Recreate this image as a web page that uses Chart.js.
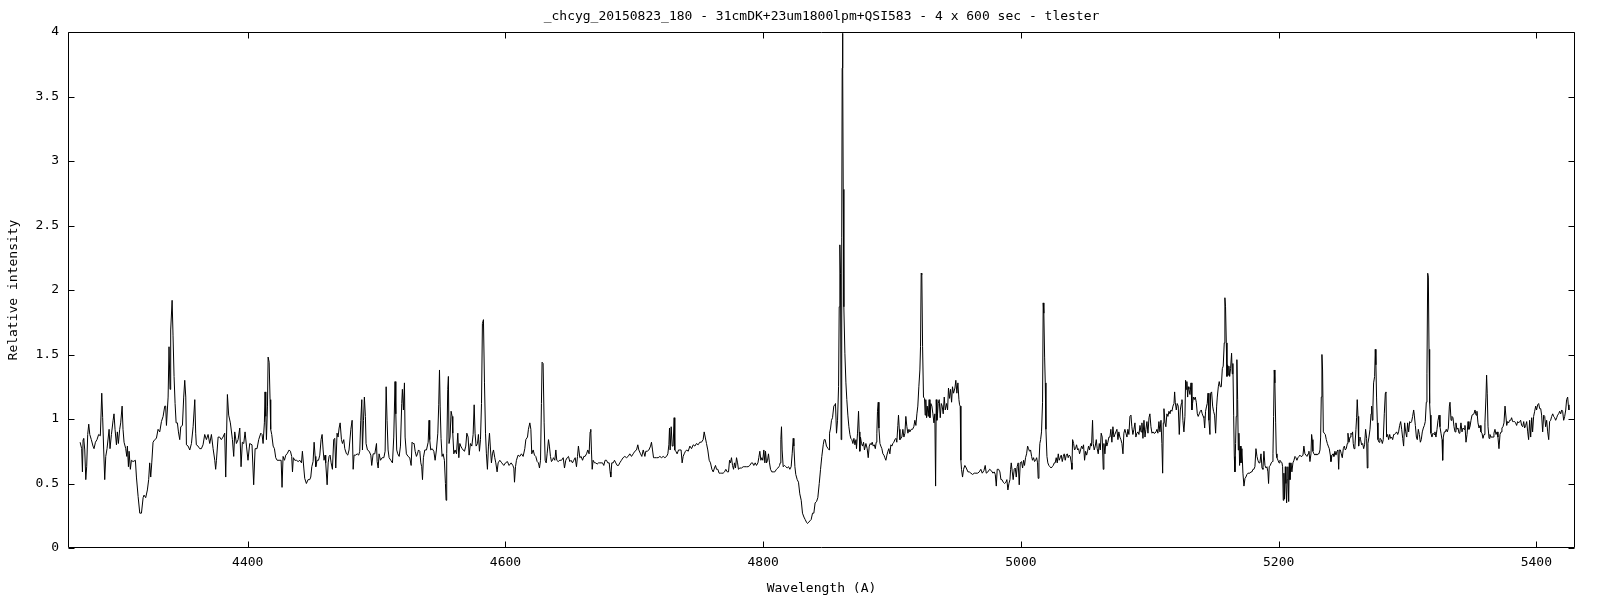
<!DOCTYPE html>
<html lang="en">
<head>
  <meta charset="UTF-8">
  <title>chcyg spectrum</title>
  <script src="https://cdn.jsdelivr.net/npm/chart.js"></script>
  <style>
    html, body { margin: 0; padding: 0; background: #fff; }
    canvas { display: block; }
  </style>
</head>
<body>
  <canvas id="spectrum" width="1600" height="600"></canvas>

  <script>
    // [wavelength (A), relative intensity], region by region
    const segHgamma = [[4269.9,0.82],[4271.1,0.77],[4271.7,0.59],[4272.2,0.84],[4272.7,0.85],[4273.5,0.76],[4274.3,0.53],[4275.0,0.63],[4275.8,0.88],[4276.6,0.96],[4277.4,0.88],[4278.6,0.84],[4279.9,0.79],[4280.7,0.77],[4281.8,0.82],[4283.0,0.84],[4284.3,0.88],[4285.6,0.87],[4286.7,1.20],[4287.4,1.01],[4288.2,0.76],[4289.0,0.53],[4289.8,0.71],[4290.8,0.77],[4292.4,0.92],[4293.1,0.77],[4294.2,0.88],[4295.5,0.99],[4296.2,1.04],[4297.0,0.92],[4298.1,0.80],[4298.8,0.90],[4299.6,0.81],[4300.6,0.92],[4301.4,0.97],[4302.5,1.10],[4303.2,0.92],[4304.0,0.82],[4305.3,0.77],[4306.1,0.71],[4306.6,0.79],[4307.4,0.63],[4307.9,0.75],[4308.9,0.61],[4309.7,0.68],[4311.0,0.67],[4312.8,0.68],[4313.6,0.55],[4314.9,0.40],[4316.2,0.27],[4317.5,0.27],[4318.8,0.39],[4319.5,0.41],[4320.8,0.39],[4322.1,0.45],[4323.1,0.53],[4323.9,0.66],[4324.7,0.55],[4325.5,0.66],[4326.5,0.82],[4327.8,0.84],[4329.1,0.85],[4330.4,0.92],[4331.7,0.90],[4333.0,0.98],[4334.3,1.02],[4335.6,1.10],[4336.3,1.10],[4336.9,0.95],[4338.2,1.17],[4338.9,1.56],[4339.7,1.23],[4340.2,1.69],[4341.3,1.92],[4342.0,1.65],[4342.8,1.33],[4343.6,1.12],[4344.4,0.97],[4345.4,0.97],[4346.2,0.90],[4347.2,0.84],[4348.0,0.94],[4349.3,0.95],[4350.3,1.17],[4351.1,1.30],[4351.9,1.17],[4352.4,0.80],[4353.7,0.79],[4355.0,0.76],[4356.3,0.81],[4357.6,0.94],[4358.9,1.15],[4359.6,0.89],[4360.1,0.80],[4361.4,0.79],[4362.7,0.77],[4364.0,0.77],[4365.3,0.80],[4366.6,0.88],[4367.9,0.84],[4369.2,0.88],[4370.5,0.81],[4371.8,0.88],[4373.1,0.77],[4374.4,0.68],[4375.1,0.61],[4375.7,0.68],[4377.0,0.86],[4378.2,0.86],[4379.5,0.84],[4380.8,0.86],[4382.1,0.89],[4382.9,0.55],[4384.2,1.19],[4385.2,1.03],[4386.5,0.97],[4388.1,0.84],[4389.1,0.71],[4389.9,0.90],[4391.2,0.81],[4392.5,0.84],[4393.8,0.93],[4394.8,0.63],[4395.8,0.82],[4396.9,0.81],[4397.9,0.90],[4399.0,0.79],[4400.2,0.68],[4401.5,0.81],[4403.3,0.80],[4404.6,0.49],[4405.7,0.77],[4407.2,0.77],[4408.5,0.84]];

    const seg4410 = [[4410.1,0.89],[4411.1,0.88],[4411.9,0.81],[4412.9,0.97],[4413.4,1.21],[4414.0,1.02],[4414.5,0.84],[4415.3,1.10],[4415.8,1.48],[4416.6,1.44],[4417.3,1.15],[4417.8,0.92],[4418.6,0.88],[4419.7,0.79],[4420.7,0.77],[4421.7,0.70],[4422.8,0.68],[4424.3,0.68],[4425.9,0.68],[4426.6,0.47],[4427.4,0.71],[4428.5,0.68],[4429.5,0.72],[4430.5,0.73],[4432.1,0.76],[4433.1,0.75],[4434.1,0.71],[4434.7,0.59],[4435.4,0.70],[4436.5,0.68],[4437.8,0.68],[4439.1,0.67],[4440.4,0.68],[4441.7,0.66],[4442.4,0.75],[4443.5,0.62],[4444.2,0.54],[4445.5,0.50],[4446.8,0.53],[4448.1,0.53],[4448.9,0.55],[4449.7,0.63],[4450.7,0.67],[4451.5,0.82],[4452.3,0.71],[4452.8,0.63],[4453.8,0.68],[4454.9,0.68],[4455.9,0.72],[4456.9,0.84],[4457.7,0.88],[4458.5,0.76],[4459.2,0.68],[4460.0,0.72],[4460.5,0.66],[4461.6,0.49],[4462.4,0.66],[4463.1,0.71],[4463.9,0.72],[4464.7,0.66],[4465.7,0.61],[4466.7,0.84],[4467.5,0.85],[4468.3,0.62],[4469.3,0.89],[4470.1,0.86],[4470.9,0.93],[4471.7,0.97],[4472.7,0.84],[4473.5,0.81],[4474.5,0.84],[4475.3,0.77],[4476.6,0.73],[4477.6,0.72],[4478.6,0.76],[4480.0,0.92],[4481.0,0.99],[4481.8,0.61],[4482.5,0.72],[4483.8,0.72],[4484.9,0.73],[4486.1,0.72],[4486.9,0.75],[4487.7,0.99],[4488.5,1.15],[4489.0,0.76],[4489.8,0.99],[4490.5,1.17],[4491.3,1.02],[4491.8,0.81],[4492.9,0.76],[4494.2,0.75],[4495.5,0.72],[4496.2,0.64],[4497.3,0.73],[4498.6,0.73],[4499.9,0.81],[4500.4,0.67],[4501.2,0.62],[4501.9,0.73],[4503.0,0.68],[4504.3,0.70],[4505.6,0.70],[4506.6,0.75],[4507.4,1.25],[4508.1,0.99],[4508.9,0.76],[4509.7,0.70],[4511.0,0.68],[4512.3,0.66],[4513.3,0.86],[4514.3,1.29],[4514.9,1.04],[4515.6,0.76],[4516.4,0.73],[4517.5,0.71],[4518.5,0.79],[4519.5,1.12],[4520.0,1.23],[4520.8,1.07],[4521.6,1.28],[4522.1,0.86],[4523.1,0.73],[4524.4,0.71],[4525.7,0.70],[4526.8,0.64],[4527.5,0.82],[4528.3,0.81],[4529.1,0.81],[4529.9,0.75],[4530.9,0.71],[4531.7,0.73],[4532.5,0.76],[4533.5,0.75],[4534.3,0.66],[4535.0,0.63],[4535.6,0.53],[4536.3,0.70],[4537.4,0.76],[4538.7,0.76],[4540.0,0.82],[4540.7,0.99],[4541.2,0.84],[4542.0,0.76],[4543.1,0.77],[4544.4,0.75],[4545.4,0.68],[4546.4,0.76],[4547.5,0.89],[4548.2,1.11],[4548.8,1.38],[4549.3,1.10],[4550.0,0.85],[4550.8,0.71],[4551.6,0.73],[4552.6,0.68],[4553.4,0.50],[4553.9,0.37],[4554.4,0.73],[4555.2,1.23],[4555.7,1.33],[4556.2,0.81]];

    const seg4556 = [[4556.5,0.81],[4557.0,0.86],[4557.8,1.06],[4558.6,1.02],[4559.1,0.89],[4559.9,0.73],[4560.9,0.76],[4562.0,0.73],[4563.0,0.89],[4563.8,0.70],[4564.6,0.81],[4565.3,0.79],[4566.4,0.77],[4567.1,0.76],[4568.2,0.75],[4569.2,0.79],[4570.0,0.89],[4571.0,0.86],[4571.8,0.72],[4572.8,0.81],[4573.9,0.79],[4574.9,0.88],[4575.7,1.11],[4576.4,0.89],[4577.2,0.79],[4578.3,0.81],[4579.0,0.88],[4579.8,0.75],[4580.6,0.84],[4581.4,1.12],[4582.1,1.74],[4582.9,1.77],[4583.7,1.28],[4584.5,0.89],[4585.2,0.73],[4586.0,0.61],[4586.8,0.79],[4587.6,0.89],[4588.4,0.76],[4589.1,0.66],[4589.9,0.73],[4590.7,0.76],[4591.7,0.70],[4592.5,0.66],[4593.5,0.59],[4594.3,0.66],[4595.6,0.68],[4597.1,0.66],[4598.7,0.64],[4600.0,0.66],[4601.5,0.67],[4602.8,0.64],[4604.4,0.66],[4605.7,0.64],[4606.5,0.62],[4607.0,0.51],[4607.8,0.63],[4608.5,0.68],[4609.8,0.72],[4611.1,0.71],[4612.4,0.73],[4613.7,0.71],[4615.0,0.77],[4615.8,0.84],[4617.1,0.86],[4617.8,0.92],[4618.9,0.97],[4619.7,0.92],[4620.4,0.73],[4621.5,0.76],[4622.5,0.72],[4623.5,0.71],[4624.6,0.67],[4625.6,0.66],[4626.4,0.62],[4627.2,0.68],[4627.9,1.12],[4628.4,1.44],[4629.2,1.43],[4630.0,0.97],[4630.8,0.68],[4631.6,0.66],[4632.3,0.73],[4633.4,0.84],[4634.1,0.79],[4634.9,0.71],[4635.7,0.67],[4636.5,0.68],[4637.2,0.70],[4638.3,0.68],[4639.1,0.76],[4639.8,0.68],[4640.9,0.67],[4642.2,0.68],[4643.5,0.68],[4644.8,0.70],[4645.8,0.62],[4646.8,0.68],[4647.9,0.70],[4648.9,0.71],[4649.9,0.67],[4650.9,0.68],[4652.0,0.66],[4653.0,0.68],[4654.1,0.70],[4655.1,0.63],[4655.9,0.71],[4656.6,0.79],[4657.7,0.70],[4658.7,0.71],[4659.8,0.68],[4660.8,0.71],[4661.8,0.71],[4662.9,0.73],[4663.9,0.76],[4664.9,0.73],[4665.7,0.90],[4666.2,0.92],[4666.7,0.76],[4667.3,0.61],[4668.0,0.68],[4669.1,0.66],[4670.1,0.66],[4671.1,0.65],[4672.2,0.66],[4673.2,0.66],[4674.2,0.66],[4675.3,0.66],[4676.3,0.64],[4677.3,0.68],[4678.4,0.68],[4679.4,0.66],[4680.5,0.66],[4681.2,0.59],[4681.7,0.55],[4682.5,0.66],[4683.6,0.66],[4684.6,0.68],[4685.6,0.66],[4686.7,0.64],[4687.7,0.64],[4688.7,0.66],[4690.0,0.68],[4691.3,0.70],[4692.6,0.71],[4693.9,0.70],[4695.2,0.71],[4696.5,0.73],[4697.8,0.71],[4699.1,0.73],[4700.4,0.75],[4701.7,0.76],[4702.7,0.80],[4703.5,0.76]];

    const seg4705 = [[4704.8,0.73],[4705.8,0.71],[4706.9,0.76],[4708.2,0.71],[4708.9,0.75],[4710.0,0.75],[4711.3,0.76],[4712.6,0.79],[4713.3,0.82],[4714.1,0.76],[4714.9,0.70],[4715.9,0.70],[4717.2,0.70],[4718.5,0.70],[4719.8,0.71],[4721.1,0.70],[4722.4,0.71],[4723.7,0.70],[4725.0,0.71],[4726.0,0.73],[4726.8,0.80],[4727.3,0.93],[4727.8,0.76],[4728.6,0.94],[4729.4,0.79],[4730.1,0.79],[4730.9,1.01],[4731.4,0.76],[4732.2,0.75],[4733.2,0.73],[4734.3,0.76],[4735.3,0.76],[4736.3,0.76],[4737.1,0.66],[4737.9,0.71],[4738.7,0.73],[4739.7,0.75],[4740.7,0.76],[4741.8,0.75],[4743.1,0.79],[4744.4,0.77],[4745.7,0.80],[4747.0,0.79],[4748.2,0.81],[4749.5,0.80],[4750.8,0.82],[4752.1,0.82],[4753.4,0.84],[4754.2,0.90],[4755.0,0.86],[4756.0,0.81],[4757.0,0.76],[4758.1,0.68],[4759.1,0.66],[4760.2,0.61],[4761.2,0.59],[4762.2,0.62],[4763.0,0.64],[4763.8,0.61],[4764.8,0.61],[4765.8,0.58],[4766.9,0.58],[4767.9,0.58],[4768.9,0.58],[4770.0,0.59],[4771.0,0.61],[4772.1,0.59],[4773.1,0.59],[4773.9,0.68],[4774.6,0.66],[4775.4,0.70],[4776.2,0.64],[4777.0,0.61],[4777.7,0.66],[4778.5,0.62],[4779.3,0.70],[4780.1,0.66],[4780.8,0.61],[4781.9,0.62],[4783.2,0.62],[4784.5,0.63],[4785.8,0.63],[4787.1,0.63],[4788.3,0.63],[4789.6,0.64],[4790.9,0.66],[4791.7,0.66],[4792.7,0.64],[4793.8,0.66],[4794.8,0.64],[4795.9,0.66],[4796.6,0.70],[4797.4,0.75],[4798.2,0.68],[4799.0,0.70],[4799.7,0.68],[4800.5,0.76],[4801.3,0.66],[4801.8,0.75],[4802.6,0.66],[4803.4,0.68],[4804.1,0.73],[4804.9,0.66],[4805.7,0.61],[4806.7,0.59],[4807.8,0.59],[4809.0,0.59],[4810.3,0.61],[4811.4,0.62],[4812.2,0.63],[4812.7,0.64],[4813.2,0.66],[4813.7,0.84],[4814.2,0.94],[4814.7,0.76],[4815.5,0.63],[4816.6,0.64],[4817.6,0.63],[4818.6,0.62],[4819.7,0.63],[4820.7,0.61],[4821.7,0.63],[4822.5,0.73],[4823.3,0.85],[4823.8,0.79],[4824.6,0.63],[4825.3,0.57],[4826.4,0.53],[4827.4,0.51],[4828.4,0.42],[4829.5,0.37],[4830.5,0.27],[4831.6,0.24],[4832.6,0.22],[4833.6,0.20],[4834.4,0.19],[4835.4,0.20],[4836.2,0.21],[4837.2,0.22],[4838.3,0.27],[4839.3,0.27],[4840.3,0.35],[4841.4,0.36],[4842.4,0.39],[4843.5,0.50],[4844.5,0.61],[4845.5,0.71],[4846.6,0.80],[4847.3,0.84],[4848.1,0.84],[4849.1,0.79],[4850.4,0.77],[4851.2,0.76]];

    const segHbeta = [[4851.5,0.89],[4852.3,0.93],[4853.0,0.99],[4853.8,1.01],[4854.8,1.10],[4855.6,1.11],[4856.1,1.12],[4856.9,0.89],[4857.7,0.99],[4858.5,1.25],[4859.0,1.87],[4859.5,2.35],[4860.0,2.13],[4860.5,0.84],[4860.8,1.79],[4861.1,2.41],[4861.3,3.72],[4861.6,3.99],[4861.8,3.72],[4862.1,2.78],[4862.6,1.87],[4863.4,1.51],[4864.2,1.28],[4864.9,1.15],[4865.7,1.03],[4866.5,0.94],[4867.3,0.88],[4868.0,0.85],[4868.8,0.84],[4869.6,0.81],[4870.4,0.85],[4871.2,0.80],[4872.0,0.84],[4872.4,0.77],[4873.2,0.89],[4874.0,1.06],[4874.5,0.90],[4875.0,0.75],[4875.5,0.86],[4876.3,0.81],[4877.1,0.79],[4877.9,0.82],[4878.6,0.76],[4879.7,0.81],[4880.7,0.77],[4881.5,0.70],[4882.3,0.79],[4883.1,0.81],[4883.8,0.80],[4884.6,0.82],[4885.4,0.79],[4886.2,0.80],[4887.0,0.77],[4887.7,0.82],[4888.2,0.89],[4888.7,1.06],[4889.3,1.13],[4889.8,0.93],[4890.6,0.81],[4891.3,0.79],[4892.1,0.77],[4892.9,0.73],[4893.7,0.72],[4894.4,0.70],[4895.2,0.68],[4896.0,0.72],[4896.8,0.75],[4897.5,0.77],[4898.3,0.73],[4899.1,0.80],[4899.9,0.79],[4900.6,0.81],[4901.4,0.82],[4902.2,0.84],[4903.0,0.85],[4903.7,0.82],[4904.5,0.95],[4905.0,1.03],[4905.6,0.92],[4906.1,0.84],[4906.9,0.85],[4907.6,0.86],[4908.4,0.92],[4909.2,0.86],[4910.0,0.89],[4910.7,1.02],[4911.5,0.94],[4912.3,0.89],[4913.1,0.92],[4913.8,0.90],[4914.9,0.92],[4915.9,0.92],[4916.9,0.94],[4917.7,0.99],[4918.5,0.95],[4919.3,1.04],[4920.0,1.10],[4920.8,1.25],[4921.6,1.38],[4922.1,1.56],[4922.6,2.13],[4923.1,2.12],[4923.7,1.56],[4924.4,1.17],[4925.2,1.16],[4925.7,1.03],[4926.2,1.15],[4926.8,1.01],[4927.3,1.10],[4928.1,1.02],[4928.8,1.15],[4929.4,1.01],[4930.1,1.12],[4930.9,1.10],[4931.7,1.04],[4932.5,0.97],[4933.2,1.04],[4933.8,0.48],[4934.3,1.15],[4934.8,0.99],[4935.3,1.04],[4935.8,1.12],[4936.6,1.15],[4937.4,1.01],[4938.2,1.12],[4938.9,1.10],[4939.7,1.04],[4940.5,1.17],[4941.3,1.07],[4942.3,1.12],[4943.1,1.07],[4943.8,1.24],[4944.6,1.16],[4945.4,1.23],[4946.2,1.13],[4946.9,1.25],[4947.7,1.20],[4948.8,1.24],[4949.5,1.30],[4950.3,1.20],[4951.1,1.28],[4951.9,1.15]];

    const seg4952 = [[4952.4,1.11],[4952.9,1.10],[4953.4,0.68],[4953.9,0.61],[4954.7,0.55],[4955.5,0.61],[4956.5,0.64],[4957.6,0.62],[4958.9,0.59],[4959.9,0.59],[4961.2,0.58],[4962.5,0.57],[4963.8,0.58],[4965.1,0.58],[4966.4,0.58],[4967.7,0.59],[4968.9,0.61],[4970.0,0.58],[4971.3,0.60],[4972.3,0.64],[4973.1,0.58],[4974.4,0.59],[4975.7,0.61],[4977.0,0.60],[4978.3,0.58],[4979.3,0.59],[4980.1,0.57],[4980.9,0.48],[4981.6,0.61],[4982.7,0.61],[4983.7,0.59],[4984.5,0.53],[4985.3,0.53],[4986.3,0.51],[4987.3,0.50],[4988.4,0.51],[4989.1,0.53],[4989.9,0.45],[4990.7,0.50],[4991.5,0.53],[4992.0,0.61],[4992.5,0.66],[4993.3,0.59],[4994.0,0.53],[4994.8,0.61],[4995.6,0.62],[4996.4,0.55],[4997.1,0.63],[4997.9,0.66],[4998.7,0.49],[4999.5,0.66],[5000.5,0.67],[5001.3,0.62],[5002.1,0.68],[5002.8,0.64],[5003.6,0.70],[5004.4,0.73],[5005.2,0.79],[5005.9,0.77],[5006.7,0.75],[5007.5,0.76],[5008.3,0.71],[5009.0,0.68],[5009.8,0.70],[5010.6,0.67],[5011.4,0.68],[5012.2,0.70],[5012.9,0.66],[5013.4,0.54],[5014.0,0.66],[5014.7,0.81],[5015.3,0.84],[5016.0,0.90],[5016.8,1.13],[5017.3,1.90],[5017.8,1.82],[5018.4,1.48],[5018.9,1.28],[5019.4,0.92],[5020.2,0.71],[5020.9,0.66],[5021.7,0.64],[5022.5,0.63],[5023.5,0.62],[5024.3,0.63],[5025.1,0.64],[5025.9,0.66],[5026.6,0.66],[5027.4,0.70],[5028.2,0.66],[5029.0,0.73],[5029.7,0.68],[5030.5,0.70],[5031.3,0.72],[5032.1,0.67],[5032.9,0.71],[5033.6,0.73],[5034.4,0.68],[5035.2,0.72],[5036.0,0.73],[5036.7,0.70],[5037.5,0.72],[5038.3,0.71],[5039.1,0.66],[5039.6,0.61],[5040.1,0.84],[5040.9,0.81],[5041.6,0.76],[5042.4,0.77],[5043.2,0.80],[5044.0,0.76],[5044.8,0.77],[5045.5,0.73],[5046.3,0.76],[5047.1,0.79],[5047.9,0.77],[5048.6,0.80],[5049.4,0.68],[5050.2,0.75],[5051.0,0.72],[5051.7,0.75],[5052.5,0.79],[5053.3,0.76],[5054.1,0.81],[5054.8,0.79],[5055.6,0.99],[5056.1,0.81],[5056.9,0.76],[5057.7,0.79],[5058.5,0.84],[5059.2,0.77],[5060.0,0.73],[5060.8,0.81],[5061.6,0.76],[5062.3,0.89],[5063.1,0.86],[5063.9,0.61],[5064.4,0.81],[5065.2,0.73],[5066.0,0.84],[5066.7,0.79],[5067.5,0.82],[5068.3,0.86],[5069.1,0.86],[5069.8,0.92],[5070.6,0.82],[5071.4,0.94],[5072.2,0.86],[5072.9,0.88],[5073.7,0.90],[5074.5,0.92],[5075.3,0.84],[5076.0,0.90],[5076.8,0.86],[5077.6,0.84],[5078.4,0.81],[5079.2,0.73],[5079.9,0.89],[5080.7,0.92],[5081.5,0.89],[5082.3,0.86],[5083.0,0.92],[5083.8,0.88],[5084.6,1.02],[5085.4,1.03],[5086.1,0.94],[5086.9,0.88],[5087.7,0.92],[5088.5,0.97],[5089.2,0.86],[5090.0,0.89],[5090.8,0.90],[5091.6,0.88]];

    const seg5092 = [[5092.4,0.95],[5093.2,0.90],[5093.9,0.97],[5094.7,0.85],[5095.5,0.99],[5096.3,0.86],[5097.0,0.92],[5097.8,0.98],[5098.6,0.89],[5099.4,1.01],[5100.1,1.04],[5100.9,0.94],[5101.7,0.89],[5102.5,0.90],[5103.2,0.89],[5104.0,0.89],[5104.8,0.90],[5105.6,0.92],[5106.3,0.89],[5107.1,0.98],[5107.9,0.90],[5108.7,0.99],[5109.4,0.81],[5110.0,0.58],[5110.5,0.97],[5111.0,1.08],[5111.8,0.97],[5112.5,0.94],[5113.3,1.04],[5114.1,1.02],[5114.9,1.06],[5115.7,1.04],[5116.4,1.07],[5117.2,1.06],[5118.0,1.10],[5118.8,1.12],[5119.3,1.21],[5119.8,1.13],[5120.6,1.07],[5121.3,1.12],[5122.1,1.10],[5122.9,0.88],[5123.7,1.07],[5124.5,1.12],[5125.0,1.15],[5125.7,0.99],[5126.5,0.90],[5127.3,1.02],[5127.8,1.30],[5128.3,1.23],[5128.8,1.29],[5129.4,1.17],[5129.9,1.25],[5130.4,1.23],[5131.2,1.19],[5132.0,1.28],[5132.7,1.07],[5133.2,1.12],[5133.8,1.17],[5134.5,1.15],[5135.3,1.17],[5136.1,1.13],[5136.9,1.04],[5137.6,1.02],[5138.4,1.04],[5139.2,1.06],[5140.0,1.07],[5140.7,1.04],[5141.5,1.02],[5142.0,1.01],[5142.6,0.93],[5143.3,1.06],[5144.1,1.10],[5144.6,1.12],[5145.2,1.20],[5145.9,0.99],[5146.7,0.88],[5147.2,1.20],[5148.0,1.21],[5148.8,1.10],[5149.5,1.06],[5150.3,1.03],[5151.1,0.89],[5151.9,1.10],[5152.4,1.17],[5153.2,1.25],[5153.9,1.29],[5154.7,1.25],[5155.5,1.25],[5156.3,1.39],[5157.0,1.41],[5157.8,1.59],[5158.3,1.94],[5158.8,1.87],[5159.4,1.59],[5159.9,1.33],[5160.4,1.42],[5160.9,1.34],[5161.4,1.41],[5162.0,1.33],[5162.7,1.39],[5163.5,1.51],[5164.0,1.35],[5164.5,1.43],[5165.1,1.03],[5165.6,0.71],[5166.1,0.59],[5166.6,0.81],[5167.1,1.02],[5167.6,1.46],[5168.2,1.15],[5168.7,0.76],[5169.2,0.89],[5169.7,0.64],[5170.2,0.79],[5170.8,0.66],[5171.5,0.77],[5172.3,0.58],[5173.1,0.48],[5173.9,0.54],[5174.6,0.55],[5175.4,0.57],[5176.2,0.58],[5177.0,0.58],[5177.7,0.58],[5178.5,0.59],[5179.3,0.59],[5180.1,0.61],[5180.8,0.61],[5181.6,0.63],[5182.4,0.77],[5183.2,0.71],[5183.9,0.68],[5184.7,0.66],[5185.5,0.66],[5186.3,0.73],[5187.1,0.62],[5187.8,0.61],[5188.6,0.75],[5189.4,0.64],[5190.2,0.62],[5190.9,0.63],[5191.7,0.59],[5192.2,0.50],[5192.7,0.63],[5193.5,0.64],[5194.3,0.66],[5195.1,0.67],[5195.6,0.73],[5196.1,1.02],[5196.6,1.38],[5197.1,1.28],[5197.7,0.97],[5198.2,0.73],[5198.7,0.70],[5199.5,0.68],[5200.3,0.66],[5201.0,0.68],[5201.8,0.67],[5202.6,0.66],[5203.1,0.63],[5203.6,0.37],[5204.1,0.58],[5204.6,0.38],[5205.2,0.63],[5205.7,0.50],[5206.2,0.35],[5206.7,0.53],[5207.2,0.63],[5207.8,0.36],[5208.3,0.66],[5208.8,0.53],[5209.6,0.66],[5210.3,0.59],[5211.1,0.66],[5211.9,0.68],[5212.7,0.71],[5213.4,0.70],[5214.2,0.68],[5215.0,0.70],[5215.8,0.71],[5216.5,0.72],[5217.3,0.71],[5218.1,0.71],[5218.9,0.72],[5219.6,0.79],[5220.4,0.73],[5221.2,0.72],[5222.0,0.71],[5222.8,0.73],[5223.5,0.75],[5224.3,0.67],[5225.1,0.73],[5225.6,0.88],[5226.1,0.84],[5226.6,0.75],[5227.4,0.73],[5228.2,0.72],[5229.0,0.73],[5229.7,0.72],[5230.5,0.73],[5231.3,0.73],[5232.1,0.76],[5232.6,0.86],[5233.1,1.17],[5233.6,1.50],[5234.1,1.38],[5234.7,0.90],[5235.4,0.89],[5236.2,0.88],[5237.0,0.84],[5237.8,0.81],[5238.5,0.79],[5239.3,0.77],[5240.1,0.72],[5240.6,0.67],[5241.4,0.72],[5242.2,0.73],[5242.9,0.71],[5243.7,0.75],[5244.5,0.72],[5245.3,0.75],[5246.0,0.76],[5246.6,0.61],[5247.1,0.76],[5247.9,0.76],[5248.6,0.73],[5249.4,0.70],[5250.2,0.77],[5251.0,0.79],[5251.7,0.76],[5252.5,0.77],[5253.3,0.81],[5253.8,0.89],[5254.6,0.82],[5255.4,0.86],[5256.1,0.89],[5256.9,0.88],[5257.4,0.90],[5257.9,0.81],[5258.5,0.77],[5259.2,0.79],[5260.0,0.92],[5260.5,1.01],[5261.0,1.15],[5261.6,1.02],[5262.1,0.79],[5262.6,0.84],[5263.1,0.86],[5263.6,0.84],[5264.4,0.80],[5265.2,0.81],[5266.0,0.77],[5266.7,0.80],[5267.5,0.92],[5268.3,0.85],[5268.8,0.62],[5269.3,0.81],[5270.1,0.86],[5270.9,0.92],[5271.7,1.04],[5272.2,1.10],[5272.7,0.99],[5273.2,1.10],[5273.7,1.28],[5274.5,1.33],[5275.0,1.54],[5275.5,1.42],[5276.0,1.17],[5276.6,0.97],[5277.1,0.84],[5277.9,0.82],[5278.6,0.85]];

    const seg5280 = [[5279.7,0.84],[5280.5,0.81],[5281.2,0.84],[5282.0,1.04],[5282.8,1.20],[5283.3,1.21],[5283.8,0.86],[5284.6,0.88],[5285.4,0.84],[5286.2,0.88],[5286.9,0.85],[5287.7,0.86],[5288.5,0.84],[5289.3,0.88],[5290.0,0.88],[5290.8,0.89],[5291.6,0.90],[5292.4,0.88],[5293.1,0.90],[5293.9,0.95],[5294.7,0.98],[5295.5,0.92],[5296.3,0.85],[5297.0,0.79],[5297.8,0.97],[5298.6,0.90],[5299.4,0.86],[5300.1,0.97],[5300.9,0.90],[5301.7,0.98],[5302.5,0.97],[5303.2,0.98],[5304.0,1.02],[5304.8,1.07],[5305.3,1.03],[5306.1,0.95],[5306.9,0.86],[5307.6,0.84],[5308.4,0.92],[5309.2,0.88],[5310.0,0.82],[5310.7,0.84],[5311.5,0.90],[5312.3,0.93],[5313.1,0.95],[5313.8,0.98],[5314.6,1.13],[5315.1,1.35],[5315.7,2.13],[5316.2,2.10],[5316.7,1.54],[5317.2,1.12],[5317.7,1.03],[5318.2,0.89],[5319.0,0.86],[5319.8,0.89],[5320.6,0.88],[5321.3,0.90],[5322.1,0.86],[5322.9,0.92],[5323.7,0.99],[5324.5,1.03],[5325.2,0.94],[5326.0,0.89],[5326.8,0.84],[5327.3,0.68],[5327.8,0.86],[5328.6,0.90],[5329.4,0.90],[5330.1,0.92],[5330.9,0.90],[5331.7,0.93],[5332.5,1.10],[5333.0,1.13],[5333.8,0.99],[5334.5,1.02],[5335.3,1.01],[5336.1,0.94],[5336.9,0.90],[5337.6,0.97],[5338.4,0.92],[5339.2,0.93],[5340.0,0.89],[5340.7,0.90],[5341.5,0.97],[5342.3,0.90],[5343.1,0.93],[5343.9,0.92],[5344.6,0.95],[5345.4,0.82],[5346.2,0.88],[5347.0,0.98],[5347.7,0.92],[5348.5,0.94],[5349.3,0.99],[5350.1,1.03],[5350.8,1.03],[5351.6,1.04],[5352.4,1.07],[5353.2,1.03],[5353.9,1.06],[5354.7,0.97],[5355.5,0.93],[5356.3,0.95],[5357.0,0.90],[5357.8,0.89],[5358.6,0.85],[5359.4,0.88],[5360.1,0.97],[5360.9,1.17],[5361.4,1.34],[5361.9,1.20],[5362.5,0.94],[5363.3,0.85],[5364.0,0.88],[5364.8,0.86],[5365.6,0.86],[5366.4,0.86],[5367.1,0.89],[5367.9,0.92],[5368.7,0.88],[5369.5,0.90],[5370.2,0.86],[5371.0,0.77],[5371.8,0.88],[5372.6,0.90],[5373.3,0.93],[5374.1,0.94],[5374.9,0.97],[5375.7,1.10],[5376.2,1.10],[5377.0,0.95],[5377.7,0.98],[5378.5,0.97],[5379.3,0.99],[5380.1,0.99],[5380.8,1.01],[5381.6,0.98],[5382.4,0.98],[5383.2,0.98],[5383.9,0.97],[5384.7,0.95],[5385.5,0.98],[5386.3,0.97],[5387.1,0.98],[5387.8,0.99],[5388.6,0.95],[5389.4,0.94],[5390.2,0.98],[5390.9,0.93],[5391.7,0.95],[5392.5,0.98],[5393.3,0.90],[5394.0,0.84],[5394.8,0.99],[5395.6,0.86],[5396.4,1.01],[5397.1,0.90],[5397.9,1.02],[5398.7,1.06],[5399.5,1.10],[5400.2,1.07],[5401.0,1.11],[5401.8,1.12],[5402.6,1.08],[5403.4,1.08],[5404.1,1.03],[5404.9,0.90],[5405.7,1.03],[5406.5,1.02],[5407.2,0.94],[5408.0,0.99],[5408.8,0.90],[5409.6,0.84],[5410.3,0.98],[5411.1,0.99],[5411.9,1.02],[5412.7,1.04],[5413.4,1.02],[5414.2,1.01],[5415.0,0.99],[5415.8,1.01],[5416.5,1.03],[5417.3,1.04],[5418.1,1.06],[5418.9,1.04],[5419.7,1.07],[5420.4,1.06],[5421.2,0.99],[5422.0,1.02],[5422.8,1.07],[5423.5,1.15],[5424.3,1.17],[5424.8,1.11],[5425.3,1.07]];

    const xTicks = [4400, 4600, 4800, 5000, 5200, 5400];
    const yTicks = [0, 0.5, 1, 1.5, 2, 2.5, 3, 3.5, 4];
    const xRange = [4260.5, 5430];
    const titleText = "_chcyg_20150823_180 - 31cmDK+23um1800lpm+QSI583 - 4 x 600 sec - tlester";

    const spectrum = [].concat(segHgamma, seg4410, seg4556, seg4705, segHbeta, seg4952, seg5092, seg5280)
      .map(([x, y]) => ({ x, y }));

    const monoFont = { family: "'DejaVu Sans Mono', monospace", size: 13, weight: 'normal' };

    // gnuplot style frame with inward ticks mirrored on all four sides
    const gnuFrame = {
      id: 'gnuFrame',
      afterDatasetsDraw(chart) {
        const { ctx, chartArea: a, scales: { x, y } } = chart;
        const L = Math.round(a.left) + 0.5, R = Math.round(a.right) - 0.5;
        const T = Math.round(a.top) + 0.5, B = Math.round(a.bottom) - 0.5;
        ctx.save();
        ctx.strokeStyle = '#000';
        ctx.lineWidth = 1;
        ctx.beginPath();
        ctx.rect(L, T, R - L, B - T);
        x.ticks.forEach(t => {
          const px = Math.round(x.getPixelForValue(t.value)) + 0.5;
          ctx.moveTo(px, B); ctx.lineTo(px, B - 6);
          ctx.moveTo(px, T); ctx.lineTo(px, T + 6);
        });
        y.ticks.forEach(t => {
          const py = Math.round(y.getPixelForValue(t.value)) + 0.5;
          ctx.moveTo(L, py); ctx.lineTo(L + 6, py);
          ctx.moveTo(R, py); ctx.lineTo(R - 6, py);
        });
        ctx.stroke();
        ctx.restore();
      }
    };

    Chart.defaults.color = '#000';

    new Chart(document.getElementById('spectrum'), {
      type: 'line',
      data: {
        datasets: [{
          data: spectrum,
          borderColor: '#000',
          borderWidth: 1,
          pointRadius: 0,
          tension: 0,
          borderJoinStyle: 'bevel'
        }]
      },
      options: {
        responsive: false,
        animation: false,
        devicePixelRatio: 1,
        layout: { padding: { left: 0, right: 25, top: 0, bottom: 0 } },
        plugins: {
          legend: { display: false },
          tooltip: { enabled: false },
          title: {
            display: true,
            text: titleText,
            fullSize: false,
            font: monoFont,
            padding: { top: 9, bottom: 7.4 }
          }
        },
        scales: {
          x: {
            type: 'linear',
            min: xRange[0],
            max: xRange[1],
            grid: { display: false, drawTicks: false },
            border: { display: false },
            afterBuildTicks: s => { s.ticks = xTicks.map(v => ({ value: v })); },
            afterFit: s => { s.height = 52; },
            ticks: { font: monoFont, padding: 7, maxRotation: 0, callback: v => String(v) },
            title: { display: true, text: 'Wavelength (A)', font: monoFont, padding: { top: 0, bottom: 4 } }
          },
          y: {
            min: 0,
            max: 4,
            grid: { display: false, drawTicks: false },
            border: { display: false },
            afterBuildTicks: s => { s.ticks = yTicks.map(v => ({ value: v })); },
            afterFit: s => { s.width = 68; },
            ticks: { font: monoFont, padding: 9, callback: v => String(v) },
            title: { display: true, text: 'Relative intensity', font: monoFont, padding: { top: 6, bottom: 0 } }
          }
        }
      },
      plugins: [gnuFrame]
    });
  </script>
</body>
</html>
